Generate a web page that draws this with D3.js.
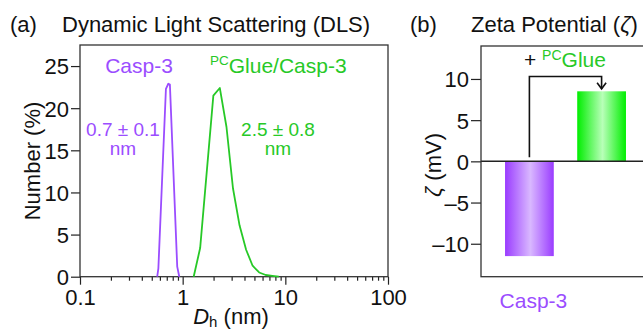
<!DOCTYPE html>
<html><head><meta charset="utf-8">
<script src="https://cdn.jsdelivr.net/npm/d3@7"></script>
<style>
body{margin:0;background:#fff;}
svg{display:block;font-family:"Liberation Sans",Arial,Helvetica,sans-serif;}
</style></head>
<body><svg id="c" width="643" height="330"></svg>
<script>
// ---- data ----
const casp3D = [0.565, 0.58, 0.687, 0.725, 0.751, 0.885, 0.927];
const casp3N = [0, 1.0, 22.3, 22.9, 22.8, 1.2, 0];
const glueD = [1.28, 1.48, 1.99, 2.30, 2.67, 3.09, 3.58, 4.15, 4.80, 5.56, 6.44, 7.46, 8.64];
const glueN = [0, 3.4, 21.5, 22.4, 17.8, 10.5, 6.1, 3.2, 1.3, 0.5, 0.2, 0.1, 0];
const xMajorTicks = [0.1, 1, 10, 100];
const yTicksA = [0, 5, 10, 15, 20, 25];
const zetaCats = ["Casp-3", "PCGlue/Casp-3"];
const zetaVals = [-11.5, 8.5];
const yTicksB = [-10, -5, 0, 5, 10];

const PURPLE = "#9b4dff", GREEN = "#27c927";
const svg = d3.select("#c");
const defs = svg.append("defs");
function grad(id, edge, mid){
  const g = defs.append("linearGradient").attr("id", id).attr("x1","0%").attr("x2","100%");
  g.append("stop").attr("offset","0%").attr("stop-color", edge);
  g.append("stop").attr("offset","52%").attr("stop-color", mid);
  g.append("stop").attr("offset","100%").attr("stop-color", edge);
}
grad("gp", "#9a3cff", "#d9b8ff");
grad("gg", "#00ee00", "#b8ffb8");

// ---- panel a ----
const ax = {l:80, r:388, t:45, b:276.7};
const x = d3.scaleLog().domain([0.1, 100]).range([ax.l, ax.r]);
const y = d3.scaleLinear().domain([0, 27.5]).range([ax.b, ax.t]);
const gA = svg.append("g");

const minor = [];
for (let d = 0.1; d < 100; d *= 10) for (let k = 2; k <= 9; k++) minor.push(+(d*k).toPrecision(3));

gA.append("g").attr("transform", `translate(0,${ax.b})`)
  .call(d3.axisBottom(x).tickValues(minor).tickSize(4).tickFormat(""))
  .call(g => g.select(".domain").remove());
gA.append("g").attr("transform", `translate(0,${ax.b})`)
  .call(d3.axisBottom(x).tickValues(xMajorTicks).tickSize(8).tickPadding(5).tickFormat(d3.format("~g")))
  .call(g => g.select(".domain").remove())
  .call(g => g.selectAll("text").attr("font-size", 22).attr("fill", "#111").attr("font-family", null));
gA.append("g").attr("transform", `translate(${ax.l},0)`)
  .call(d3.axisLeft(y).tickValues(yTicksA).tickSize(9).tickPadding(2))
  .call(g => g.select(".domain").remove())
  .call(g => g.selectAll("text").attr("font-size", 22).attr("fill", "#111").attr("dy", "0.36em").attr("font-family", null));
svg.selectAll(".tick line").attr("stroke", "#222").attr("stroke-width", 1.2);

gA.append("rect").attr("x", ax.l).attr("y", ax.t).attr("width", ax.r-ax.l).attr("height", ax.b-ax.t)
  .attr("fill", "none").attr("stroke", "#333").attr("stroke-width", 1.3);

const line = d3.line().x(d => x(d[0])).y(d => y(d[1]));
gA.append("path").datum(casp3D.map((d,i)=>[d, casp3N[i]])).attr("d", line)
  .attr("fill","none").attr("stroke", PURPLE).attr("stroke-width", 1.8).attr("stroke-linejoin","round");
gA.append("path").datum(glueD.map((d,i)=>[d, glueN[i]])).attr("d", line)
  .attr("fill","none").attr("stroke", GREEN).attr("stroke-width", 1.8).attr("stroke-linejoin","round");

// texts panel a
svg.append("text").attr("x", 10).attr("y", 32).attr("font-size", 22).attr("fill","#111").text("(a)");
svg.append("text").attr("x", 62).attr("y", 32).attr("font-size", 22).attr("fill","#111").text("Dynamic Light Scattering (DLS)");
svg.append("text").attr("x", 139).attr("y", 73).attr("text-anchor","middle").attr("font-size", 21).attr("fill", PURPLE).text("Casp-3");
svg.append("text").attr("x", 123).attr("y", 136).attr("text-anchor","middle").attr("font-size", 19).attr("fill", PURPLE).text("0.7 ± 0.1");
svg.append("text").attr("x", 123).attr("y", 155).attr("text-anchor","middle").attr("font-size", 19).attr("fill", PURPLE).text("nm");
const gl = svg.append("text").attr("x", 210).attr("y", 73).attr("font-size", 21).attr("fill", GREEN);
gl.append("tspan").attr("font-size", 13.5).attr("dy", -8).text("PC");
gl.append("tspan").attr("dy", 8).text("Glue/Casp-3");
svg.append("text").attr("x", 278).attr("y", 136).attr("text-anchor","middle").attr("font-size", 19).attr("fill", GREEN).text("2.5 ± 0.8");
svg.append("text").attr("x", 278).attr("y", 155).attr("text-anchor","middle").attr("font-size", 19).attr("fill", GREEN).text("nm");
svg.append("text").attr("transform", "translate(40,161) rotate(-90)").attr("text-anchor","middle")
  .attr("font-size", 22).attr("fill","#111").text("Number (%)");
const xl = svg.append("text").attr("x", 231).attr("y", 324).attr("text-anchor","middle").attr("font-size", 22).attr("fill","#111");
xl.append("tspan").attr("font-style","italic").text("D");
xl.append("tspan").attr("font-size", 15).attr("dy", 3).text("h");
xl.append("tspan").attr("dy", -3).text(" (nm)");

// ---- panel b ----
const bx = {l:481, r:650, t:46, b:276.7};
const xb = d3.scaleBand().domain(zetaCats).range([bx.l, bx.r]).paddingInner(0.325).paddingOuter(0.333);
const yb = d3.scaleLinear().domain([-14, 14]).range([bx.b, bx.t]);
const gB = svg.append("g");
gB.append("g").attr("transform", `translate(${bx.l},0)`)
  .call(d3.axisLeft(yb).tickValues(yTicksB).tickSize(10).tickPadding(2).tickFormat(d => (d < 0 ? "–" : "") + Math.abs(d)))
  .call(g => g.select(".domain").remove())
  .call(g => g.selectAll("text").attr("font-size", 22).attr("fill", "#111").attr("dy","0.36em").attr("font-family", null))
  .call(g => g.selectAll(".tick line").attr("stroke", "#222").attr("stroke-width", 1.2));

gB.selectAll("rect.bar").data(zetaCats).join("rect").attr("class","bar")
  .attr("x", d => xb(d)).attr("width", xb.bandwidth())
  .attr("y", (d,i) => yb(Math.max(0, zetaVals[i])))
  .attr("height", (d,i) => Math.abs(yb(zetaVals[i]) - yb(0)))
  .attr("fill", (d,i) => i === 0 ? "url(#gp)" : "url(#gg)");

gB.append("line").attr("x1", bx.l).attr("x2", bx.r).attr("y1", yb(0)).attr("y2", yb(0))
  .attr("stroke", "#222").attr("stroke-width", 1.5);
gB.append("rect").attr("x", bx.l).attr("y", bx.t).attr("width", bx.r-bx.l).attr("height", bx.b-bx.t)
  .attr("fill","none").attr("stroke","#333").attr("stroke-width", 1.3);

// bracket arrow
const c0 = xb(zetaCats[0]) + xb.bandwidth()/2, c1 = xb(zetaCats[1]) + xb.bandwidth()/2;
const yTop = yb(10.3), yTip = yb(8.8);
gB.append("path").attr("d", `M${c0},${yb(0.5)}V${yTop}H${c1}V${yTip}`)
  .attr("fill","none").attr("stroke","#111").attr("stroke-width", 1.6);
gB.append("path").attr("d", `M${c1-4.5},${yTip-6}L${c1},${yTip}L${c1+4.5},${yTip-6}`)
  .attr("fill","none").attr("stroke","#111").attr("stroke-width", 1.6);
const pt = svg.append("text").attr("x", 524).attr("y", 67).attr("font-size", 21).attr("fill", "#111");
pt.append("tspan").text("+ ");
pt.append("tspan").attr("fill", GREEN).attr("font-size", 14).attr("dy", -7).text("PC");
pt.append("tspan").attr("fill", GREEN).attr("dy", 7).text("Glue");

svg.append("text").attr("x", 410).attr("y", 32).attr("font-size", 22).attr("fill","#111").text("(b)");
const tb = svg.append("text").attr("x", 471).attr("y", 32).attr("font-size", 22).attr("fill","#111");
tb.append("tspan").text("Zeta Potential (");
tb.append("tspan").attr("font-style","italic").text("ζ");
tb.append("tspan").text(")");
const yl = svg.append("text").attr("transform", "translate(441,165) rotate(-90)").attr("text-anchor","middle")
  .attr("font-size", 22).attr("fill","#111");
yl.append("tspan").attr("font-style","italic").text("ζ");
yl.append("tspan").text(" (mV)");
svg.append("text").attr("x", c0 + 4).attr("y", 308).attr("text-anchor","middle").attr("font-size", 21)
  .attr("fill", PURPLE).text("Casp-3");
</script></body></html>
